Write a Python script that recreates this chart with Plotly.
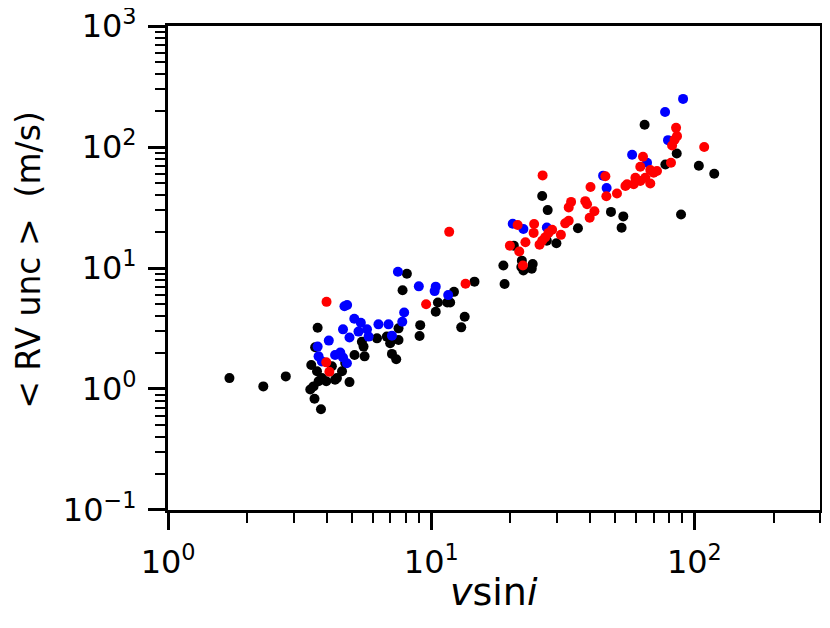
import plotly.graph_objects as go

# === Data ===
black_x = [1.71, 2.30, 2.80, 3.70, 3.62, 3.50, 3.68, 3.84, 3.73, 3.57, 3.47, 3.60, 3.81,
           4.19, 4.38, 4.58, 4.89, 5.11, 5.58, 5.53, 5.45, 6.22, 6.98, 7.09, 7.36, 7.51,
           7.51, 8.08, 7.78, 9.08, 9.03, 10.6, 10.4, 11.5, 11.8, 12.2, 13.4, 13.0, 14.6,
           18.8, 19.0, 20.6, 22.1, 24.3, 24.1, 22.0, 26.4, 27.7, 27.5, 29.9, 36.1, 48.2,
           53.7, 52.9, 64.7, 85.7, 77.6, 104, 119, 89.0, 4.31, 4.71, 3.99, 6.78, 22.4]
black_y = [1.23, 1.05, 1.27, 3.21, 2.21, 1.58, 1.40, 1.23, 1.16, 1.05, 0.99, 0.83, 0.68,
           1.54, 1.23, 1.40, 1.14, 1.91, 1.86, 2.24, 2.46, 2.62, 2.39, 1.95, 1.76, 3.17,
           2.54, 8.97, 6.54, 3.37, 2.74, 5.18, 4.35, 5.18, 5.18, 6.35, 3.95, 3.23, 7.71,
           10.5, 7.38, 15.3, 11.5, 10.8, 9.86, 10.2, 39.4, 30.1, 16.8, 16.0, 21.3, 29.1,
           26.7, 21.5, 153, 88.4, 71.8, 70.1, 60.2, 27.7, 1.19, 1.64, 1.16, 2.71, 9.55]

blue_x = [90.6, 77.4, 79.4, 58.0, 66.1, 45.0, 46.4, 20.4, 22.4, 27.5, 7.47, 8.97, 10.4,
          10.3, 11.6, 7.89, 7.76, 4.68, 4.79, 5.10, 5.40, 4.62, 4.89, 5.29, 5.70, 5.78,
          6.30, 6.88, 7.09, 4.08, 3.70, 3.73, 3.84, 4.31, 4.51, 4.78, 4.62]
blue_y = [250, 195, 114, 86.3, 74.1, 58.0, 45.9, 23.2, 21.0, 21.6, 9.31, 7.05, 7.01,
          6.44, 5.97, 4.29, 3.60, 4.83, 4.94, 3.81, 3.53, 3.11, 2.66, 2.98, 3.11, 2.71,
          3.42, 3.42, 2.76, 2.51, 2.24, 1.86, 1.69, 1.91, 2.00, 1.63, 1.82]

red_x = [4.00, 3.99, 4.10, 9.56, 13.5, 11.7, 85.2, 85.9, 84.1, 82.3, 81.5, 109, 63.8,
         62.3, 68.0, 72.1, 70.0, 65.1, 62.3, 59.7, 58.8, 55.5, 54.7, 68.0, 45.9, 46.3,
         50.8, 26.5, 40.3, 38.5, 39.1, 41.7, 40.0, 34.0, 33.3, 33.3, 32.3, 21.3, 24.6,
         24.5, 28.8, 27.9, 27.1, 26.4, 25.8, 31.1, 22.8, 19.9, 21.6, 22.3]
red_y = [5.25, 1.66, 1.39, 5.02, 7.42, 19.9, 144, 123, 115, 103, 74.1, 100, 83.1,
         68.8, 64.5, 63.3, 61.4, 55.8, 52.4, 55.8, 49.2, 49.2, 47.6, 49.9, 57.3, 39.2,
         41.3, 58.3, 46.8, 35.7, 33.7, 29.5, 26.0, 35.2, 31.7, 24.6, 23.4, 22.7, 23.1,
         19.5, 20.7, 19.5, 17.9, 16.8, 15.6, 18.8, 16.3, 15.3, 13.7, 10.5]

major_x = [1, 10, 100]
major_x_text = ["10<sup>0</sup>", "10<sup>1</sup>", "10<sup>2</sup>"]
major_y = [0.1, 1, 10, 100, 1000]
major_y_text = ["10<sup>\u22121</sup>", "10<sup>0</sup>", "10<sup>1</sup>",
                "10<sup>2</sup>", "10<sup>3</sup>"]
minor_x = [2, 3, 4, 5, 6, 7, 8, 9, 20, 30, 40, 50, 60, 70, 80, 90, 200, 300]
minor_y = [m * 10 ** k for k in (-1, 0, 1, 2) for m in range(2, 10)]

fig = go.Figure()
for xs, ys, col in [(black_x, black_y, "black"), (blue_x, blue_y, "blue"), (red_x, red_y, "red")]:
    fig.add_trace(go.Scatter(x=xs, y=ys, mode="markers",
                             marker=dict(color=col, size=10, line=dict(width=0)),
                             showlegend=False))

axis_common = dict(
    type="log", showgrid=False, zeroline=False,
    showline=True, linecolor="black", linewidth=3, mirror=True,
    ticks="outside", ticklen=17, tickwidth=3, tickcolor="black",
    tickmode="array", tickfont=dict(size=32, color="black"),
    ticklabelstandoff=5, ticklabeloverflow="allow", automargin=False,
)

fig.update_xaxes(
    **axis_common,
    range=[-0.0005, 2.4775],
    tickvals=major_x, ticktext=major_x_text,
    minor=dict(tickmode="array", tickvals=minor_x, ticks="outside",
               ticklen=10, tickwidth=2, tickcolor="black"),
)
fig.update_yaxes(
    **axis_common,
    range=[-1.0005, 3.0005],
    tickvals=major_y, ticktext=major_y_text,
    minor=dict(tickmode="array", tickvals=minor_y, ticks="outside",
               ticklen=10, tickwidth=2, tickcolor="black"),
)

# axis titles as annotations so they sit where the reference has them
fig.add_annotation(text="<i>v</i>sin<i>i</i>", xref="paper", yref="paper",
                   x=0.5, y=-0.169, xanchor="center", yanchor="middle",
                   showarrow=False, font=dict(size=38, color="black"))
fig.add_annotation(text="&lt; RV unc &gt;\u00a0 (m/s)", xref="paper", yref="paper",
                   x=-0.215, y=0.5165, xanchor="center", yanchor="middle",
                   textangle=-90, showarrow=False, font=dict(size=33, color="black"))

# page body adds 8px on the left/top, so the figure is 8px smaller
fig.update_layout(
    width=822, height=620,
    margin=dict(l=160, r=10, t=18, b=118, autoexpand=False),
    paper_bgcolor="white", plot_bgcolor="white",
    font=dict(family="DejaVu Sans", color="black"),
)

fig.write_html("out.html")
